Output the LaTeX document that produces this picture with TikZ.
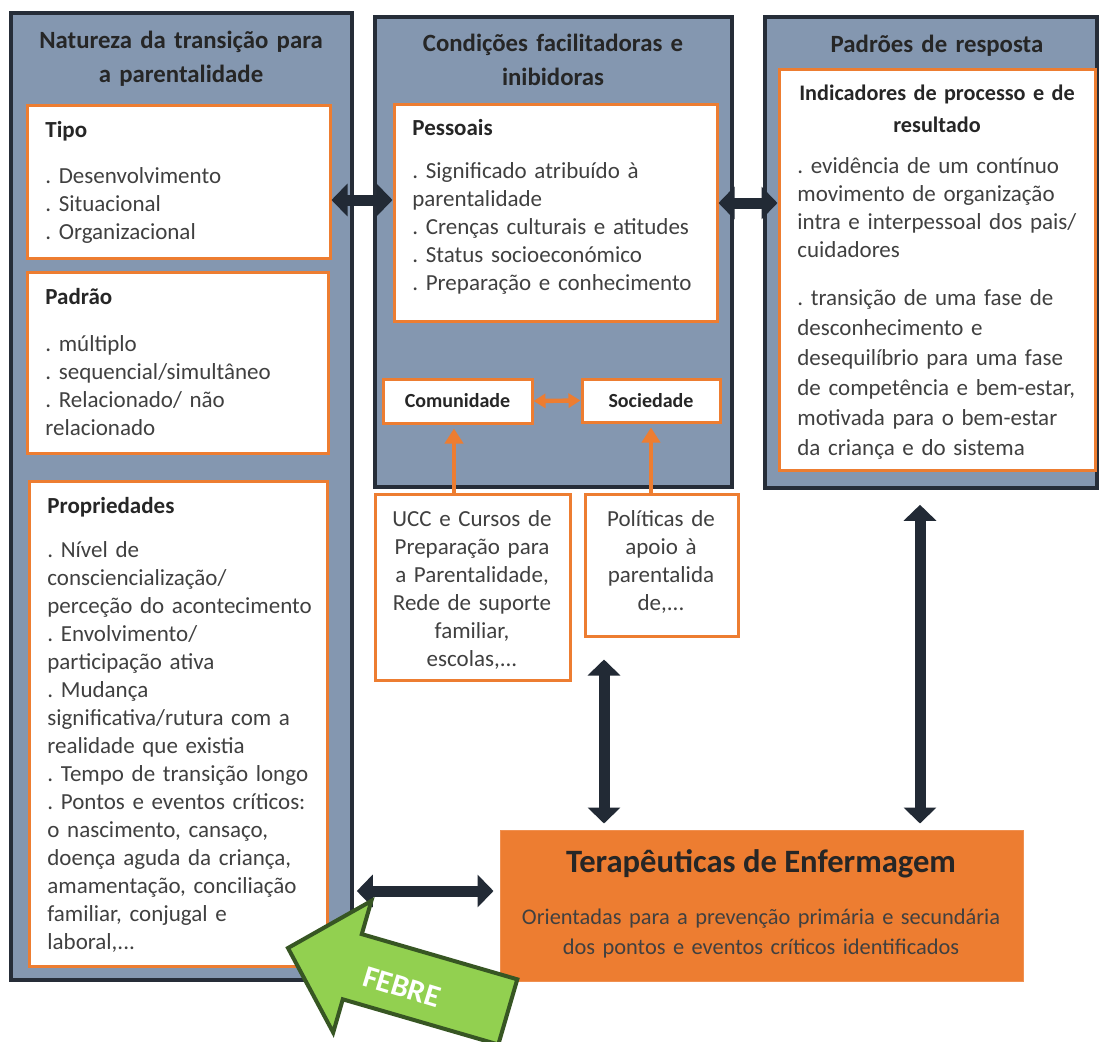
\documentclass[tikz,border=0pt]{standalone}
\usepackage{fontspec}
\setmainfont{Carlito}
\usetikzlibrary{arrows.meta,fit}
\definecolor{grayblue}{HTML}{8497B0}
\definecolor{darkframe}{HTML}{262D38}
\definecolor{orng}{HTML}{ED7D31}
\definecolor{navy}{HTML}{222A35}
\definecolor{txt}{HTML}{404040}
\definecolor{hdr}{HTML}{262626}
\definecolor{grn}{HTML}{92D050}
\definecolor{dgrn}{HTML}{375623}
\frenchspacing
\begin{document}
\begin{tikzpicture}[x=0.5pt,y=-0.5pt,
  graybox/.style={draw=darkframe,fill=grayblue,line width=1.8pt,inner sep=0pt},
  whitebox/.style={draw=orng,fill=white,line width=1.5pt,inner sep=0pt},
  terbox/.style={draw=orng!85!white,fill=orng,line width=0.5pt,inner sep=0pt},
  ttl/.style={font={\fontsize{12.4}{17}\selectfont\bfseries},text=hdr,align=center,text width=175pt,inner sep=0pt,anchor=base},
  head/.style={font={\fontsize{11.5}{14}\selectfont\bfseries},text=hdr,inner sep=0pt,anchor=base west},
  body/.style={font={\fontsize{11.5}{14}\selectfont},text=txt,align=left,text width=150pt,inner sep=0pt,anchor=base west},
  cbody/.style={font={\fontsize{11.5}{14}\selectfont},text=txt,align=center,text width=95pt,inner sep=0pt,anchor=base},
  small/.style={font={\fontsize{10}{12}\selectfont\bfseries},text=hdr,inner sep=0pt},
  bigarrow/.style={draw=navy,line width=5.5pt,{Triangle[width=16pt,length=8pt]}-{Triangle[width=16pt,length=8pt]}},
  orarrow/.style={draw=orng,line width=2pt,-{Triangle[width=9pt,length=7.5pt]}},
  orboth/.style={draw=orng,line width=2.2pt,{Triangle[width=7pt,length=6pt]}-{Triangle[width=7pt,length=6pt]}}
]
\clip (0,0) rectangle (1099,1041);
\fill[white] (0,0) rectangle (1099,1041);

% ---------- gray columns ----------
\node[graybox,fit={(11,13) (352,980)}] (L) {};
\node[graybox,fit={(375,17) (732,487)}] (M) {};
\node[graybox,fit={(765,17) (1097,488)}] (R) {};

% ---------- left column ----------
\node[ttl] (Lt) at (181,48) {Natureza da transição para\\a parentalidade};
\node[whitebox,fit={(27,105) (330,258)}] (tipo) {};
\node[head] (tipoH) at (45,137) {Tipo};
\node[body] (tipoB) at (45,183) {. Desenvolvimento\\. Situacional\\. Organizacional};
\node[whitebox,fit={(27,272) (328,453)}] (padrao) {};
\node[head] (padraoH) at (45,304) {Padrão};
\node[body] (padraoB) at (45,351) {. múltiplo\\. sequencial/simultâneo\\. Relacionado/ não\\relacionado};
\node[whitebox,fit={(29,481) (327,966)}] (prop) {};
\node[head] (propH) at (47,513) {Propriedades};
\node[body] (propB) at (47,557) {. Nível de\\consciencialização/\\perceção do acontecimento\\. Envolvimento/\\participação ativa\\. Mudança\\significativa/rutura com a\\realidade que existia\\. Tempo de transição longo\\. Pontos e eventos críticos:\\o nascimento, cansaço,\\doença aguda da criança,\\amamentação, conciliação\\familiar, conjugal e\\laboral,...};

% ---------- middle column ----------
\node[ttl] (Mt) at (553,51) {Condições facilitadoras e\\inibidoras};
\node[whitebox,fit={(394,104) (717,321)}] (pess) {};
\node[head] (pessH) at (412,135) {Pessoais};
\node[body,text width=160pt] (pessB) at (412,178) {. Significado atribuído à\\parentalidade\\. Crenças culturais e atitudes\\. Status socioeconómico\\. Preparação e conhecimento};
\node[whitebox,fit={(383,379) (532,423)}] (com) {};
\node[small] (comT) at (com.center) {Comunidade};
\node[whitebox,fit={(582,379) (720,422)}] (soc) {};
\node[small] (socT) at (soc.center) {Sociedade};
\node[whitebox,fit={(375,494) (570,680)}] (ucc) {};
\node[cbody] (uccT) at (472,526) {UCC e Cursos de\\Preparação para\\a Parentalidade,\\Rede de suporte\\familiar,\\escolas,...};
\node[whitebox,fit={(585,494) (738,636)}] (pol) {};
\node[cbody,text width=72pt] (polT) at (661,526) {Políticas de\\apoio à\\parentalida\\de,...};

% ---------- right column ----------
\node[ttl] (Rt) at (937,52) {Padrões de resposta};
\node[whitebox,fit={(779,69) (1095,470)}] (ind) {};
\node[ttl,text width=150pt,font={\fontsize{11.1}{16}\selectfont\bfseries}] (indH) at (937,100) {Indicadores de processo e de\\resultado};
\node[body] (indB1) at (797,173) {. evidência de um contínuo\\movimento de organização\\intra e interpessoal dos pais/\\cuidadores};
\node[body,font={\fontsize{11.5}{15}\selectfont}] (indB2) at (797,305) {. transição de uma fase de\\desconhecimento e\\desequilíbrio para uma fase\\de competência e bem-estar,\\motivada para o bem-estar\\da criança e do sistema};

% ---------- Terapêuticas ----------
\node[terbox,fit={(500,830) (1023,981)}] (ter) {};
\node[font={\fontsize{16.3}{19}\selectfont\bfseries},text=hdr,inner sep=0pt,anchor=base] (terH) at (761,872) {Terapêuticas de Enfermagem};
\node[font={\fontsize{11.2}{15}\selectfont},text=txt,align=center,text width=255pt,inner sep=0pt,anchor=base] (terB) at (761,924) {Orientadas para a prevenção primária e secundária\\dos pontos e eventos críticos identificados};

% ---------- connectors ----------
\coordinate (ya) at (0,200);
\coordinate (yb) at (0,203);
\coordinate (yc) at (0,891);
\coordinate (xv1) at (604,0);
\coordinate (xv2) at (920,0);
\coordinate (xo1) at (454,0);
\draw[bigarrow] (tipo.east |- ya) -- (pess.west |- ya);
\draw[bigarrow] (pess.east |- yb) -- (ind.west |- yb);
\draw[bigarrow,shorten <=1.5pt,shorten >=3pt] (L.east |- yc) -- (ter.west |- yc);
\draw[bigarrow,shorten <=11pt,shorten >=3pt] (xv1 |- pol.south) -- (xv1 |- ter.north);
\draw[bigarrow,shorten <=7.5pt,shorten >=3pt] (xv2 |- R.south) -- (xv2 |- ter.north);
\draw[orboth] (com.east) -- (soc.west);
\draw[orarrow,shorten >=2pt] (xo1 |- ucc.north) -- (xo1 |- com.south);
\draw[orarrow,shorten >=2pt] (pol.north -| soc.south) -- (soc.south);

% ---------- green arrow ----------
\draw[fill=grn,draw=dgrn,line width=2pt,line join=miter]
  (288,948) -- (371.4,900.9) -- (361.8,934.1) -- (517.3,979.3) -- (498.3,1044.5)
  -- (342.8,999.3) -- (333.2,1032.5) -- cycle;
\node[font={\fontsize{15.5}{18}\selectfont\bfseries},text=white,rotate=-17,inner sep=0pt] (febre) at (402,987) {FEBRE};
\end{tikzpicture}
\end{document}
